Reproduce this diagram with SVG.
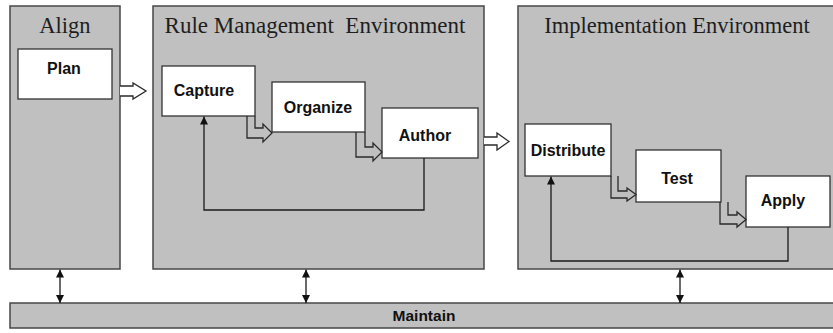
<svg xmlns="http://www.w3.org/2000/svg" width="833" height="333" viewBox="0 0 833 333">
  <style>
    .panel { fill: #c0c0c0; stroke: #474747; stroke-width: 1.5; }
    .box { fill: #ffffff; stroke: #333333; stroke-width: 1.3; }
    .title { font-family: "Liberation Serif", "Times New Roman", serif; font-size: 22.5px; fill: #1e1e1e; text-anchor: middle; }
    .label { font-family: "Liberation Sans", Arial, sans-serif; font-size: 16px; font-weight: bold; fill: #111111; text-anchor: middle; }
    .hollow { fill: none; stroke: #2a2a2a; stroke-width: 1.3; stroke-linejoin: miter; }
    .hollow-w { fill: #ffffff; stroke: #2a2a2a; stroke-width: 1.3; stroke-linejoin: miter; }
    .line { fill: none; stroke: #1a1a1a; stroke-width: 1.3; }
  </style>
  <defs>
    <marker id="tip" viewBox="0 0 10 10" refX="10" refY="5" markerWidth="8" markerHeight="8" markerUnits="userSpaceOnUse" orient="auto-start-reverse">
      <path d="M0,0 L10,5 L0,10 Z" fill="#111111"/>
    </marker>
  </defs>

  <rect width="833" height="333" fill="#ffffff"/>

  <!-- Panels -->
  <g id="align">
    <rect class="panel" x="10" y="6" width="110" height="263"/>
    <text class="title" x="65" y="33">Align</text>
  </g>
  <g id="rule-management">
    <rect class="panel" x="153" y="6" width="331" height="263"/>
    <text class="title" x="315" y="33" xml:space="preserve" style="font-size:23px">Rule Management  Environment</text>
  </g>
  <g id="implementation">
    <rect class="panel" x="518" y="6" width="330" height="263"/>
    <text class="title" x="677" y="33">Implementation Environment</text>
  </g>
  <g id="maintain">
    <rect class="panel" x="10" y="303" width="830" height="25"/>
    <text class="label" x="424" y="321" style="font-size:15.5px">Maintain</text>
  </g>

  <!-- Step boxes -->
  <g id="plan">
    <rect class="box" x="18" y="49" width="94" height="50"/>
    <text class="label" x="64" y="74">Plan</text>
  </g>
  <g id="capture">
    <rect class="box" x="162" y="66" width="93" height="50"/>
    <text class="label" x="204" y="96">Capture</text>
  </g>
  <g id="organize">
    <rect class="box" x="272" y="82" width="93" height="50"/>
    <text class="label" x="318" y="113">Organize</text>
  </g>
  <g id="author">
    <rect class="box" x="382" y="108" width="96" height="50"/>
    <text class="label" x="425" y="141">Author</text>
  </g>
  <g id="distribute">
    <rect class="box" x="525" y="124" width="86" height="52"/>
    <text class="label" x="568" y="156">Distribute</text>
  </g>
  <g id="test">
    <rect class="box" x="636" y="150" width="85" height="52"/>
    <text class="label" x="677" y="184">Test</text>
  </g>
  <g id="apply">
    <rect class="box" x="746" y="176" width="84" height="51"/>
    <text class="label" x="783" y="206">Apply</text>
  </g>

  <!-- Connectors -->
  <g id="connectors">
    <!-- block arrows between environments -->
    <path class="hollow-w" d="M120,86 H133 V83 L146,91 L133,99 V96 H120"/>
    <path class="hollow-w" d="M484,137 H497 V133 L509,141.5 L497,150 V145 H484"/>

    <!-- elbow block arrows between steps -->
    <path class="hollow" d="M247,116 V138 H263 V142 L272,133 L263,124 V128 H255 V116"/>
    <path class="hollow" d="M356,132 V157 H373 V161 L382,152 L373,143 V147 H365 V132"/>
    <path class="hollow" d="M611,176 V198 H627 V201 L636,194.5 L627,188 V191 H618 V176"/>
    <path class="hollow" d="M720,202 V224 H737 V227 L746,219.5 L737,212 V215 H728 V202"/>

    <!-- feedback loops -->
    <path class="line" d="M424,158 V210 H204 V116.5" marker-end="url(#tip)"/>
    <path class="line" d="M788,227 V261 H551 V176.5" marker-end="url(#tip)"/>

    <!-- links to Maintain -->
    <path class="line" d="M60,303 V269.5" marker-start="url(#tip)" marker-end="url(#tip)"/>
    <path class="line" d="M306,303 V269.5" marker-start="url(#tip)" marker-end="url(#tip)"/>
    <path class="line" d="M680,303 V269.5" marker-start="url(#tip)" marker-end="url(#tip)"/>
  </g>
</svg>
